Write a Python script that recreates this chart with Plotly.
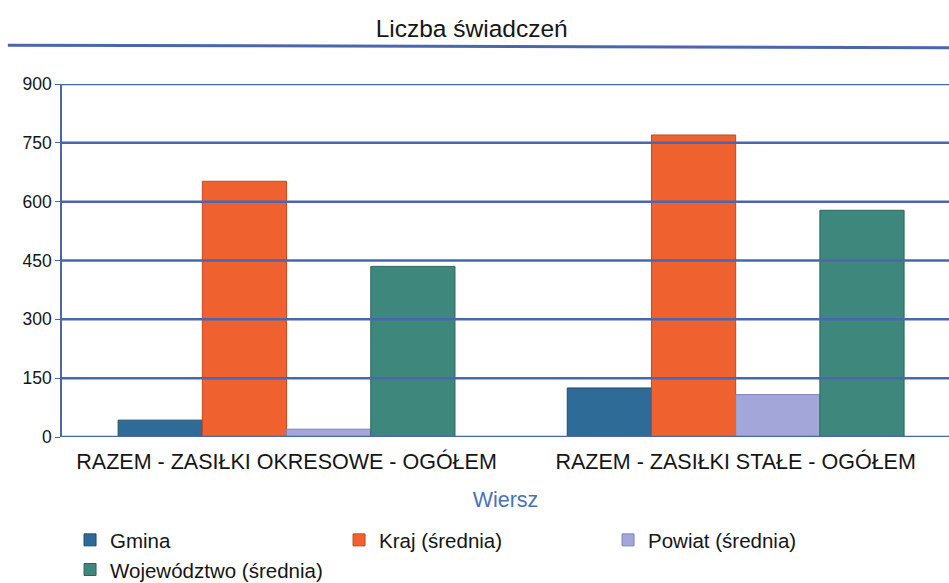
import plotly.graph_objects as go

# Categories (rows) and series values
categories = ["RAZEM - ZASIŁKI OKRESOWE - OGÓŁEM", "RAZEM - ZASIŁKI STAŁE - OGÓŁEM"]
gmina = [43, 125]
kraj = [652, 770]
powiat = [20, 108]
wojewodztwo = [435, 578]

series_names = ["Gmina", "Kraj (średnia)", "Powiat (średnia)", "Województwo (średnia)"]
series_values = [gmina, kraj, powiat, wojewodztwo]
series_colors = ["#2f6b97", "#ef6230", "#a3a6d8", "#3e877c"]
series_edges = ["#1d4d73", "#c9461a", "#7e82b8", "#2a665c"]

y_ticks = [0, 150, 300, 450, 600, 750, 900]

FONT = "Liberation Sans, Arial, sans-serif"
GRID = "#4a66ad"
TEXT = "#151515"

fig = go.Figure()
for name, vals, col, edge in zip(series_names, series_values, series_colors, series_edges):
    fig.add_trace(go.Bar(
        x=categories, y=vals, name=name,
        marker=dict(color=col, line=dict(color=edge, width=1)),
    ))

# Grid lines drawn on top of the bars
for t in y_ticks:
    fig.add_shape(type="line", xref="paper", yref="y", x0=0, x1=1, y0=t, y1=t,
                  line=dict(color=GRID, width=2.5), layer="above")

# Rule under the title
fig.add_shape(type="line", xref="paper", yref="paper", x0=-0.061, x1=1.0,
              y0=1.11, y1=1.103, line=dict(color=GRID, width=3), layer="above")

fig.update_layout(
    width=949, height=583,
    margin=dict(l=62, r=0, t=84, b=146),
    paper_bgcolor="white", plot_bgcolor="white",
    font=dict(family=FONT, color=TEXT),
    title=dict(text="Liczba świadczeń", x=0.497, xanchor="center", y=0.951, yanchor="middle",
               font=dict(size=24.5, color=TEXT, family=FONT)),
    barmode="group", bargap=0.25, bargroupgap=0.0,
    showlegend=True,
    legend=dict(orientation="h", xref="container", yref="container",
                x=0.0738, y=0.108, xanchor="left", yanchor="top",
                entrywidth=224, entrywidthmode="pixels",
                font=dict(size=20.5, color=TEXT, family=FONT),
                itemclick=False, tracegroupgap=0),
)
fig.update_xaxes(
    range=[-0.5, 1.475], showgrid=False, showline=False, ticks="",
    tickfont=dict(size=21.5, color=TEXT), ticklabelstandoff=9,
    title=dict(text="Wiersz", font=dict(size=21.5, color="#4a72b8"), standoff=19),
)
fig.update_yaxes(
    range=[0, 900], tickvals=y_ticks, showgrid=False, zeroline=False,
    showline=True, linecolor=GRID, linewidth=1.5,
    ticks="outside", ticklen=5, tickcolor=GRID,
    tickfont=dict(size=17.5, color=TEXT),
)

fig.write_html("out.html")
